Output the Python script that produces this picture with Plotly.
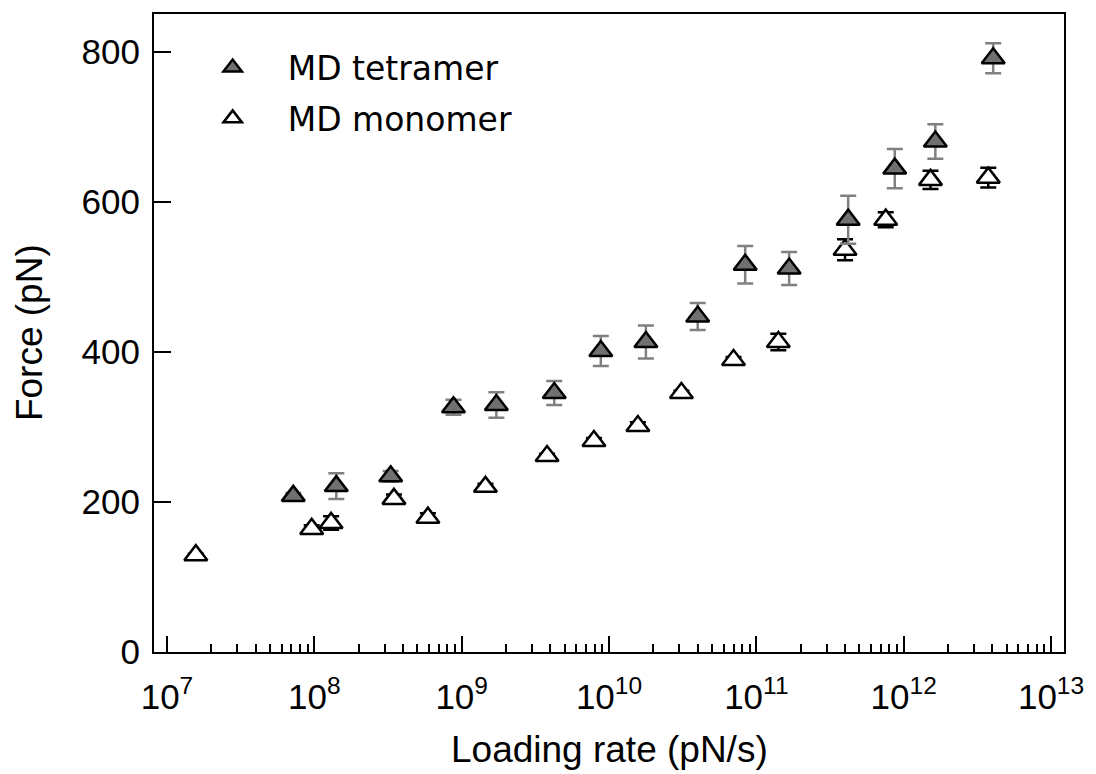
import plotly.graph_objects as go

# ---- data ----
tet_rate = [7.2e7, 1.41e8, 3.3e8, 8.8e8, 1.72e9, 4.25e9, 8.8e9, 1.78e10,
            4.0e10, 8.4e10, 1.67e11, 4.2e11, 8.7e11, 1.64e12, 4.05e12]
tet_force = [208, 221, 234, 326, 329, 345, 401, 413, 447, 516, 511, 576, 644, 680, 791]
tet_err = [4, 17, 7, 10, 17, 16, 20, 22, 18, 25, 22, 32, 26, 23, 20]

mono_rate = [1.57e7, 9.6e7, 1.3e8, 3.47e8, 5.9e8, 1.45e9, 3.8e9, 7.9e9,
             1.57e10, 3.1e10, 7.0e10, 1.41e11, 4.0e11, 7.55e11, 1.52e12, 3.75e12]
mono_force = [129, 164, 172, 204, 179, 220, 261, 281, 301, 345, 389, 413, 536, 576, 629, 632]
mono_err = [2, 5, 9, 6, 6, 4, 3, 4, 5, 3, 4, 11, 14, 10, 12, 13]

x_tick_vals = [1e7, 1e8, 1e9, 1e10, 1e11, 1e12, 1e13]
x_tick_text = ["10<sup>7</sup>", "10<sup>8</sup>", "10<sup>9</sup>", "10<sup>10</sup>",
               "10<sup>11</sup>", "10<sup>12</sup>", "10<sup>13</sup>"]
x_minor_vals = [m * 10 ** e for e in range(7, 13) for m in range(2, 10)]
y_tick_vals = [0, 200, 400, 600, 800]
y_tick_text = ["0", "200", "400", "600", "800"]

series_names = ["MD tetramer", "MD monomer"]
x_title = "Loading rate (pN/s)"
y_title = "Force (pN)"

TICK_FONT = dict(family="Liberation Sans, Arial, sans-serif", size=35, color="black")
TITLE_FONT = dict(family="Liberation Sans, Arial, sans-serif", size=37, color="black")

fig = go.Figure()

fig.add_trace(go.Scatter(
    x=mono_rate, y=mono_force, mode="markers", name=series_names[1],
    marker=dict(symbol="triangle-up", size=20, color="white",
                line=dict(color="black", width=2.5)),
    error_y=dict(type="data", array=mono_err, visible=True, color="black",
                 thickness=2.5, width=8),
    legendgroup="mono", legendrank=2,
))

fig.add_trace(go.Scatter(
    x=tet_rate, y=tet_force, mode="markers", name=series_names[0],
    marker=dict(symbol="triangle-up", size=20, color="#707070",
                line=dict(color="black", width=2.5)),
    error_y=dict(type="data", array=tet_err, visible=True, color="#808080",
                 thickness=2.5, width=8),
    legendgroup="tet", legendrank=1,
))

fig.update_layout(
    width=1096, height=774,
    margin=dict(l=154, r=28, t=14, b=122),
    paper_bgcolor="white", plot_bgcolor="white",
    showlegend=True,
    legend=dict(x=0.026, y=0.960, xanchor="left", yanchor="top",
                font=dict(family="DejaVu Sans, Verdana, sans-serif", size=33, color="black"),
                itemwidth=100, tracegroupgap=5, bgcolor="rgba(0,0,0,0)"),
    xaxis=dict(
        type="log", range=[6.912, 13.088],
        tickmode="array", tickvals=x_tick_vals, ticktext=x_tick_text,
        ticks="inside", ticklen=16, tickwidth=2, tickcolor="black",
        showline=True, linewidth=2, linecolor="black", mirror=True,
        showgrid=False, zeroline=False, tickfont=TICK_FONT,
        ticklabelstandoff=13,
        minor=dict(tickmode="array", tickvals=x_minor_vals, ticks="inside",
                   ticklen=8, tickwidth=2, tickcolor="black", showgrid=False),
    ),
    yaxis=dict(
        range=[0, 850],
        tickmode="array", tickvals=y_tick_vals, ticktext=y_tick_text,
        ticks="inside", ticklen=17, tickwidth=2, tickcolor="black",
        showline=True, linewidth=2, linecolor="black", mirror=True,
        showgrid=False, zeroline=False, tickfont=TICK_FONT,
        ticklabelstandoff=5,
    ),
    annotations=[
        dict(text=x_title, xref="paper", yref="paper", x=0.5, y=-0.1536,
             xanchor="center", yanchor="middle", showarrow=False, font=TITLE_FONT),
        dict(text=y_title, xref="paper", yref="paper", x=-0.1373, y=0.5,
             xanchor="center", yanchor="middle", showarrow=False, textangle=-90,
             font=TITLE_FONT),
    ],
)

fig.write_html("out.html", config={"displayModeBar": False},
               post_script="document.body.style.margin='0';")
